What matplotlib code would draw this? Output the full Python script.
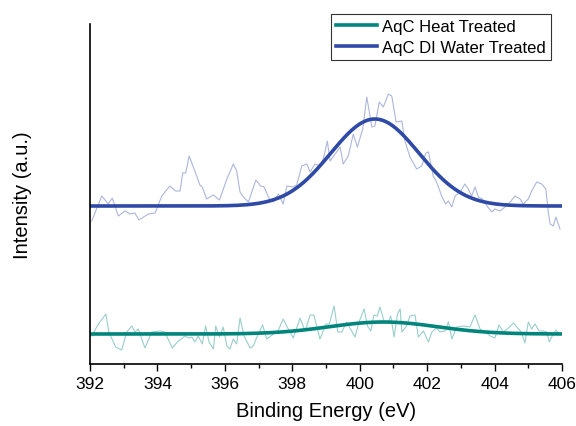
import numpy as np
import matplotlib.pyplot as plt

plt.rcParams['font.family'] = ['Liberation Sans', 'DejaVu Sans']

# raw spectra (eV, intensity a.u.)
di_energy = [392.05, 392.35, 392.54, 392.66, 392.84, 393.04, 393.19, 393.33, 393.45, 393.73,
             393.93, 394.13, 394.37, 394.54, 394.67, 394.75, 394.84, 394.94, 395.11, 395.26,
             395.33, 395.46, 395.66, 395.84, 396.06, 396.25, 396.35, 396.45, 396.55, 396.70,
             396.92, 397.06, 397.16, 397.32, 397.44, 397.59, 397.73, 397.84, 398.03, 398.13,
             398.28, 398.43, 398.53, 398.67, 398.82, 398.92, 399.04, 399.12, 399.27, 399.42,
             399.51, 399.66, 399.81, 399.93, 400.09, 400.21, 400.36, 400.45, 400.58, 400.70,
             400.85, 400.95, 401.08, 401.25, 401.34, 401.49, 401.69, 401.84, 401.96, 402.04,
             402.18, 402.28, 402.43, 402.55, 402.63, 402.73, 402.83, 402.98, 403.12, 403.22,
             403.32, 403.42, 403.52, 403.64, 403.80, 403.92, 404.01, 404.16, 404.31, 404.46,
             404.61, 404.76, 404.85, 405.00, 405.10, 405.25, 405.40, 405.52, 405.60, 405.65,
             405.74, 405.82, 405.94]
di_counts = [143, 168, 160, 166, 148, 153, 150, 151, 144, 150,
             151, 168, 178, 173, 173, 191, 191, 208, 193, 179,
             177, 165, 169, 164, 185, 200, 193, 172, 167, 162,
             184, 178, 177, 165, 162, 170, 160, 178, 177, 179,
             198, 200, 192, 200, 198, 205, 223, 203, 210, 217,
             200, 208, 230, 217, 235, 267, 237, 238, 262, 257,
             270, 268, 242, 243, 223, 207, 195, 198, 211, 212,
             188, 182, 168, 160, 163, 157, 168, 172, 180, 175,
             168, 177, 167, 165, 157, 152, 155, 153, 157, 162,
             168, 165, 160, 165, 173, 182, 180, 175, 150, 140,
             138, 147, 135]

heat_energy = [392.05, 392.25, 392.47, 392.56, 392.76, 392.94, 393.09, 393.24, 393.33, 393.43,
               393.63, 393.83, 394.08, 394.22, 394.44, 394.62, 394.82, 394.92, 395.02, 395.11,
               395.21, 395.33, 395.43, 395.53, 395.66, 395.73, 395.84, 395.95, 396.06, 396.15,
               396.25, 396.35, 396.45, 396.57, 396.75, 396.84, 396.99, 397.12, 397.24, 397.44,
               397.59, 397.73, 397.88, 398.03, 398.23, 398.38, 398.53, 398.64, 398.82, 399.00,
               399.10, 399.24, 399.35, 399.47, 399.61, 399.76, 399.86, 399.99, 400.13, 400.23,
               400.33, 400.42, 400.52, 400.60, 400.72, 400.85, 400.92, 401.02, 401.12, 401.20,
               401.25, 401.39, 401.49, 401.64, 401.74, 401.89, 402.04, 402.14, 402.28, 402.38,
               402.53, 402.63, 402.73, 402.88, 403.07, 403.27, 403.42, 403.57, 403.72, 403.87,
               404.01, 404.13, 404.26, 404.41, 404.56, 404.66, 404.79, 404.90, 405.00, 405.10,
               405.20, 405.32, 405.45, 405.55, 405.62, 405.71, 405.82, 405.91]
heat_counts = [28, 40, 50, 32, 17, 14, 32, 38, 32, 35,
               16, 32, 33, 32, 16, 23, 28, 26, 27, 22,
               28, 20, 38, 22, 15, 38, 27, 37, 18, 15,
               25, 20, 46, 28, 16, 18, 30, 39, 25, 30,
               34, 45, 35, 26, 46, 33, 49, 49, 25, 40,
               40, 58, 32, 32, 42, 33, 27, 43, 55, 38,
               33, 49, 48, 57, 43, 42, 48, 27, 50, 55,
               32, 38, 48, 49, 27, 33, 22, 32, 36, 32,
               33, 42, 25, 37, 38, 37, 49, 35, 32, 28,
               26, 39, 32, 36, 41, 37, 32, 21, 42, 35,
               40, 33, 33, 32, 22, 28, 34, 30]

# gaussian fit parameters (baseline, height, centre, sigma)
di_fit = (158, 87, 400.45, 1.31)
heat_fit = (30, 12, 400.7, 1.6)

teal = '#00857c'
blue = '#2f4aa6'

def gauss(x, base, amp, cen, sig):
    return base + amp * np.exp(-(x - cen) ** 2 / (2 * sig ** 2))

xfit = np.linspace(392, 406, 400)

fig = plt.figure(figsize=(5.76, 4.27), dpi=100)
ax = fig.add_axes([90 / 576, 62 / 427, 472 / 576, 340 / 427])

ax.plot(heat_energy, heat_counts, color=teal, alpha=0.4, lw=0.8)
ax.plot(di_energy, di_counts, color=blue, alpha=0.4, lw=0.8)
ax.plot(xfit, gauss(xfit, *heat_fit), color=teal, lw=2.6, label='AqC Heat Treated')
ax.plot(xfit, gauss(xfit, *di_fit), color=blue, lw=2.6, label='AqC DI Water Treated')

ax.set_xlim(392, 406)
ax.set_ylim(0, 340)
ax.set_xticks(np.arange(392, 407, 2))
ax.set_xticks(np.arange(393, 406, 2), minor=True)
ax.set_yticks([])
ax.tick_params(axis='x', which='major', direction='out', length=5, width=1, labelsize=12.5, pad=4)
ax.tick_params(axis='x', which='minor', direction='out', length=3, width=1)
ax.spines['top'].set_visible(False)
ax.spines['right'].set_visible(False)
ax.spines['left'].set_linewidth(1.2)
ax.spines['bottom'].set_linewidth(1.2)

ax.set_xlabel('Binding Energy (eV)', fontsize=14.5, labelpad=7)
ax.set_ylabel('Intensity (a.u.)', fontsize=14.5, labelpad=42)

leg = fig.legend(loc='upper right', bbox_to_anchor=(551 / 576, 1 - 15 / 427),
                 fontsize=12, frameon=True, fancybox=False, handlelength=2.5,
                 borderpad=0.3, labelspacing=0.35, handletextpad=0.3,
                 borderaxespad=0)
leg.get_frame().set_edgecolor('black')
leg.get_frame().set_linewidth(0.8)

fig.savefig('out.png', dpi=100)
